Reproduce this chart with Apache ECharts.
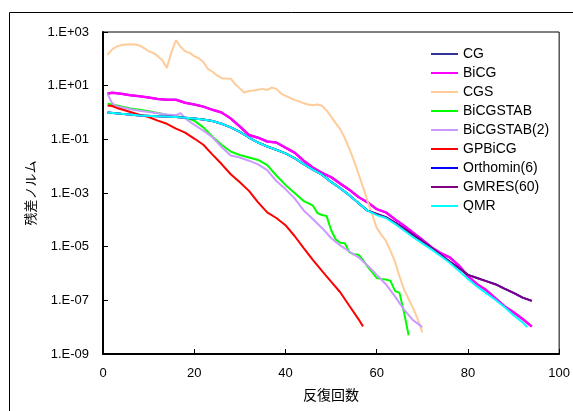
<!DOCTYPE html>
<html>
<head>
<meta charset="utf-8">
<script src="https://cdn.jsdelivr.net/npm/echarts@6/dist/echarts.min.js"></script>
<style>
html,body{margin:0;padding:0;background:#fff;}
#chart{width:573px;height:411px;}
</style>
</head>
<body>
<div id="chart"></div>
<script>
// ---- data ----
const seriesNames = ['CG','BiCG','CGS','BiCGSTAB','BiCGSTAB(2)','GPBiCG','Orthomin(6)','GMRES(60)','QMR'];
const xTicks = [0,20,40,60,80,100];
const yTickExponents = [-9,-7,-5,-3,-1,1,3];

const bicgIter = [1,2,4,6,8,10,12,14,16,18,20,22,24,26,28,30,32,34,36,38,40,42,44,46,48,50,52,54,56,58,60,62,64,66,68,70,72,74,76,78,80,82,84,86,88,90,92,94];
const bicgVal = [5.0,5.4,5.0,4.4,4.0,3.6,3.2,3.0,3.0,2.3,2.0,1.66,1.26,1.0,0.60,0.30,0.145,0.115,0.083,0.076,0.049,0.032,0.016,8.9e-3,5.6e-3,3.9e-3,2.24e-3,1.32e-3,7.1e-4,4.5e-4,2.5e-4,1.9e-4,1.05e-4,6.0e-5,3.3e-5,1.8e-5,9.5e-6,5.8e-6,4.0e-6,2.0e-6,7.9e-7,4.0e-7,2.4e-7,1.2e-7,6.0e-8,3.6e-8,2.0e-8,1.05e-8];

const cgIter = bicgIter;
const cgVal = [5.0,5.4,5.0,4.4,4.0,3.6,3.2,3.0,3.0,2.3,2.0,1.66,1.26,1.0,0.60,0.30,0.145,0.115,0.083,0.076,0.049,0.032,0.016,8.9e-3,5.6e-3,3.9e-3,2.24e-3,1.32e-3,7.1e-4,4.5e-4,2.5e-4,1.9e-4,1.05e-4,6.0e-5,3.3e-5,1.8e-5,9.5e-6,5.8e-6,4.0e-6,2.0e-6,7.9e-7,4.0e-7,2.4e-7,1.2e-7,6.0e-8,3.6e-8,2.0e-8,1.05e-8];

const cgsIter = [1,2,3,4,5,6,7,8,9,10,11,12,13,14,15,16,17,18,19,20,21,22,23,24,25,26,27,28,29,30,31,32,33,34,35,36,37,38,39,40,41,42,43,44,45,46,47,48,49,50,51,52,53,54,55,56,57,58,59,60,61,62,63,64,65,66,67,68,69,70];
const cgsVal = [141,224,288,324,339,347,339,316,251,191,166,126,89,46,178,490,282,191,166,126,105,76,42,33,24,19,18.6,18.2,11.2,7.9,5.6,6.3,6.6,7.1,7.6,6.9,8.5,7.6,5.2,4.2,3.5,2.9,2.6,2.2,2.0,1.86,2.0,1.78,1.2,0.71,0.40,0.24,0.112,0.045,0.016,5.2e-3,1.66e-3,5.0e-4,1.6e-4,5.0e-5,2.8e-5,1.66e-5,7.1e-6,2.8e-6,7.9e-7,2.5e-7,1.12e-7,5.0e-8,2.0e-8,6.3e-9];

const stabIter = [1,2,4,6,8,10,12,14,16,18,20,22,24,26,28,30,32,34,36,38,40,42,44,45,46,47,48,49,50,51,52,53,54,55,56,57,58,59,60,61,62,63,64,65,66,67];
const stabVal = [2.14,2.0,1.66,1.41,1.26,1.12,0.95,0.83,0.74,0.63,0.50,0.28,0.126,0.063,0.035,0.026,0.021,0.017,0.011,4.5e-3,2.0e-3,1.0e-3,5.0e-4,4.2e-4,3.4e-4,1.8e-4,1.5e-4,1.4e-4,4.2e-5,1.9e-5,1.4e-5,1.35e-5,6.3e-6,5.2e-6,5.0e-6,3.2e-6,1.8e-6,1.12e-6,6.8e-7,6.3e-7,6.0e-7,5.4e-7,2.24e-7,1.9e-7,3.5e-8,5.0e-9];

const stab2Iter = [1,2,3,4,6,8,10,12,14,16,17,18,20,22,24,26,28,30,32,34,36,38,40,42,44,46,48,50,52,54,56,58,60,62,64,66,68,70];
const stab2Val = [4.9,2.24,1.66,1.58,1.32,1.17,1.05,0.93,0.85,0.79,0.95,0.60,0.35,0.21,0.12,0.052,0.025,0.021,0.016,0.0117,7.1e-3,2.8e-3,1.4e-3,6.3e-4,2.24e-4,1.07e-4,5.0e-5,2.1e-5,1.12e-5,6.6e-6,4.0e-6,2.0e-6,8.9e-7,4.0e-7,1.4e-7,4.5e-8,1.8e-8,1.0e-8];

const gpIter = [1,2,3,4,6,8,10,12,14,16,18,20,22,24,26,28,30,32,34,36,38,40,42,44,46,48,50,52,54,56,57];
const gpVal = [1.82,1.74,1.48,1.32,1.05,0.83,0.68,0.50,0.38,0.25,0.178,0.107,0.063,0.027,0.012,5.0e-3,2.5e-3,1.2e-3,4.5e-4,1.9e-4,1.17e-4,6.3e-5,2.5e-5,8.9e-6,3.2e-6,1.26e-6,5.0e-7,2.0e-7,6.3e-8,2.0e-8,1.07e-8];

const gmresIter = [1,4,8,12,16,20,22,24,26,28,30,32,34,36,38,40,42,44,46,48,50,52,54,56,58,60,62,64,66,68,70,72,74,76,78,80,82,84,86,88,90,92,94];
const gmresVal = [1.0,0.89,0.78,0.72,0.68,0.60,0.55,0.48,0.38,0.28,0.19,0.117,0.076,0.054,0.041,0.030,0.020,0.012,7.4e-3,4.8e-3,2.6e-3,1.5e-3,8.3e-4,4.2e-4,2.2e-4,1.66e-4,1.26e-4,7.9e-5,4.7e-5,2.75e-5,1.6e-5,9.1e-6,5.0e-6,2.8e-6,1.6e-6,8.9e-7,6.8e-7,5.2e-7,4.0e-7,2.75e-7,1.9e-7,1.26e-7,9.5e-8];

const orthoIter = gmresIter;
const orthoVal = [1.0,0.89,0.78,0.72,0.68,0.60,0.55,0.48,0.38,0.28,0.19,0.117,0.076,0.054,0.041,0.030,0.020,0.012,7.4e-3,4.8e-3,2.6e-3,1.5e-3,8.3e-4,4.2e-4,2.2e-4,1.66e-4,1.26e-4,7.9e-5,4.7e-5,2.75e-5,1.6e-5,9.1e-6,5.0e-6,2.8e-6,1.6e-6,8.9e-7,6.8e-7,5.2e-7,4.0e-7,2.75e-7,1.9e-7,1.26e-7,9.5e-8];

const qmrIter = [1,4,8,12,16,20,22,24,26,28,30,32,34,36,38,40,42,44,46,48,50,52,54,56,58,60,62,64,66,68,70,72,74,76,78,80,82,84,86,88,90,92,93];
const qmrVal = [1.0,0.89,0.78,0.72,0.68,0.60,0.55,0.48,0.38,0.28,0.19,0.117,0.076,0.054,0.041,0.030,0.020,0.012,7.4e-3,4.8e-3,2.6e-3,1.5e-3,8.3e-4,4.2e-4,2.2e-4,1.5e-4,1.17e-4,7.1e-5,4.0e-5,2.24e-5,1.32e-5,7.9e-6,4.5e-6,2.5e-6,1.26e-6,6.3e-7,3.3e-7,1.86e-7,1.05e-7,5.6e-8,2.8e-8,1.5e-8,1.0e-8];

const colors = ['#333399','#FF00FF','#FFCC99','#00FF00','#CC99FF','#FF0000','#0000FF','#800080','#00FFFF'];
const widths = [2,2.5,2,2,2,2,2,2,2];

// ---- build ----
const iters = [cgIter,bicgIter,cgsIter,stabIter,stab2Iter,gpIter,orthoIter,gmresIter,qmrIter];
const vals = [cgVal,bicgVal,cgsVal,stabVal,stab2Val,gpVal,orthoVal,gmresVal,qmrVal];

function pairs(xs, ys){ return xs.map((x,i)=>[x, Math.log10(ys[i])]); }
function expLabel(v){
  const e = Math.round(v);
  const s = e < 0 ? '-' : '+';
  const a = Math.abs(e);
  return '1.E' + s + (a < 10 ? '0' + a : '' + a);
}

const FONT = 'Liberation Sans, Arial, sans-serif';
const JFONT = 'Noto Sans CJK JP, sans-serif';

const chart = echarts.init(document.getElementById('chart'), null, {renderer:'canvas'});
chart.setOption({
  animation:false,
  backgroundColor:'#fff',
  graphic:[{
    type:'rect', silent:true,
    shape:{x:9.5,y:12.5,width:700,height:500},
    style:{fill:'none',stroke:'#000',lineWidth:1}
  }],
  grid:{left:103,top:32,right:13,bottom:57,show:true,borderColor:'#000',borderWidth:1,backgroundColor:'transparent'},
  legend:{
    orient:'vertical', left:426, top:42,
    icon:'rect', itemWidth:27, itemHeight:2, itemGap:5,
    textStyle:{fontFamily:FONT,fontSize:14,color:'#000',lineHeight:14},
    data:seriesNames
  },
  xAxis:{
    type:'value', min:xTicks[0], max:xTicks[xTicks.length-1], interval:20,
    name:'反復回数', nameLocation:'middle', nameGap:34,
    nameTextStyle:{fontFamily:JFONT,fontSize:14,color:'#000'},
    axisLine:{show:true,onZero:false,lineStyle:{color:'#000',width:2}},
    axisTick:{show:true,inside:true,length:5,lineStyle:{color:'#000',width:1}},
    axisLabel:{fontFamily:FONT,fontSize:13,color:'#000',margin:13},
    splitLine:{show:false}
  },
  yAxis:{
    type:'value', min:yTickExponents[0], max:yTickExponents[yTickExponents.length-1], interval:2,
    name:'残差ノルム', nameLocation:'middle', nameGap:64, nameRotate:90,
    nameTextStyle:{fontFamily:JFONT,fontSize:13,color:'#000'},
    axisLine:{show:true,onZero:false,lineStyle:{color:'#000',width:2}},
    axisTick:{show:true,inside:true,length:5,lineStyle:{color:'#000',width:1}},
    axisLabel:{fontFamily:FONT,fontSize:13,color:'#000',margin:14,formatter:expLabel},
    splitLine:{show:false}
  },
  series: seriesNames.map((n,i)=>({
    name:n, type:'line', showSymbol:false, symbol:'none',
    data:pairs(iters[i], vals[i]),
    lineStyle:{color:colors[i],width:widths[i]},
    itemStyle:{color:colors[i]},
    z:2+i
  }))
});
</script>
</body>
</html>
